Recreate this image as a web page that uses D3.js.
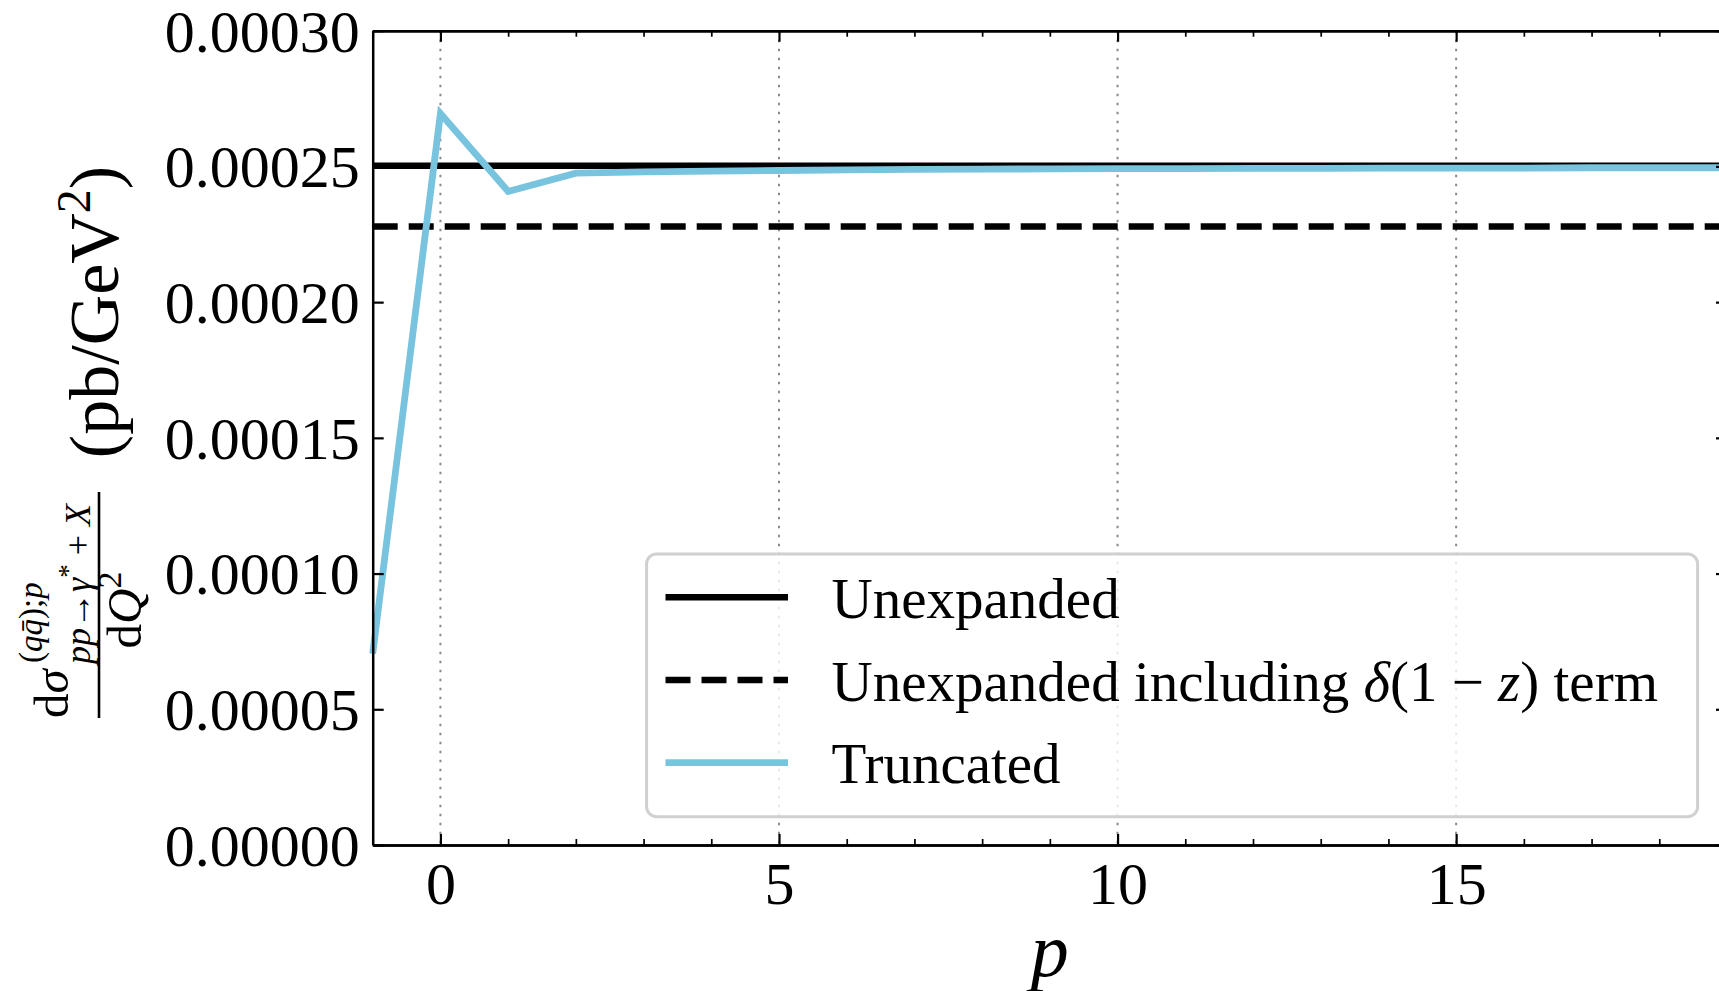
<!DOCTYPE html>
<html>
<head>
<meta charset="utf-8">
<script src="https://cdn.jsdelivr.net/npm/d3@7"></script>
<style>
  body { margin: 0; background: #fff; }
  svg { display: block; }
</style>
</head>
<body>
<svg id="chart" width="1719" height="991"></svg>
<script>
// p values and the truncated cross section (pb/GeV^2)
var pValues = [-1, 0, 1, 2, 3, 4, 5, 6, 7, 8, 9, 10, 11, 12, 13, 14, 15, 16, 17, 18, 19];
var truncated = [0.0000705, 0.0002695, 0.0002408, 0.0002475, 0.0002480, 0.0002483, 0.0002485,
    0.0002487, 0.0002489, 0.0002490, 0.0002491, 0.0002492, 0.0002492, 0.0002493, 0.0002493,
    0.0002494, 0.0002494, 0.0002494, 0.0002495, 0.0002495, 0.0002495];
var unexpanded = 0.0002502;
var unexpandedDelta = 0.0002279;

var xDomain = [-1, 19];
var yDomain = [0, 0.0003];
var xMajorTicks = [0, 5, 10, 15];
var yTicks = [0, 0.00005, 0.0001, 0.00015, 0.0002, 0.00025, 0.0003];
var legendLabels = ["Unexpanded", "Unexpanded including", "Truncated"];

var serif = "'Liberation Serif', 'Times New Roman', serif";
var blue = "#78c3de";

var svg = d3.select("#chart");
var plotLeft = 372.7, plotRight = 1727, plotTop = 30.7, plotBottom = 845;

var x = d3.scaleLinear().domain(xDomain).range([plotLeft, plotRight]);
var y = d3.scaleLinear().domain(yDomain).range([plotBottom, plotTop]);

var xMinorTicks = d3.range(xDomain[0], xDomain[1] + 1).filter(function (d) { return d % 5 !== 0; });

// dotted vertical grid
svg.append("g").selectAll("line")
    .data(xMajorTicks)
    .enter().append("line")
    .attr("x1", function (d) { return x(d); })
    .attr("x2", function (d) { return x(d); })
    .attr("y1", plotTop)
    .attr("y2", plotBottom)
    .attr("stroke", "#8a8a8a")
    .attr("stroke-width", 2)
    .attr("stroke-dasharray", "2.5,6.5");

// horizontal reference lines
svg.append("line")
    .attr("x1", x(xDomain[0])).attr("x2", x(xDomain[1]))
    .attr("y1", y(unexpanded)).attr("y2", y(unexpanded))
    .attr("stroke", "#000").attr("stroke-width", 6.5);

svg.append("line")
    .attr("x1", x(xDomain[0])).attr("x2", x(xDomain[1]))
    .attr("y1", y(unexpandedDelta)).attr("y2", y(unexpandedDelta))
    .attr("stroke", "#000").attr("stroke-width", 6.5)
    .attr("stroke-dasharray", "25,11");

// truncated series
var line = d3.line()
    .x(function (d, i) { return x(pValues[i]); })
    .y(function (d) { return y(d); });

svg.append("path")
    .datum(truncated)
    .attr("d", line)
    .attr("fill", "none")
    .attr("stroke", blue)
    .attr("stroke-width", 6.8)
    .attr("stroke-linejoin", "miter");

// axes, ticks pointing inward on all four sides
function styleAxis(g) {
    g.selectAll(".domain").attr("stroke", "#000").attr("stroke-width", 2.5);
    g.selectAll(".tick line").attr("stroke", "#000").attr("stroke-width", 2.2);
    g.selectAll(".tick text").style("font-family", serif).style("font-size", "60px").attr("fill", "#000");
}

svg.append("g")
    .attr("transform", "translate(0," + plotBottom + ")")
    .call(d3.axisBottom(x).tickValues(xMajorTicks).tickSize(-11).tickSizeOuter(0).tickPadding(16))
    .call(styleAxis);

svg.append("g")
    .attr("transform", "translate(0," + plotBottom + ")")
    .call(d3.axisBottom(x).tickValues(xMinorTicks).tickSize(-6).tickSizeOuter(0).tickFormat(""))
    .call(styleAxis)
    .call(function (g) { g.selectAll(".tick line").attr("stroke-width", 1.7); });

svg.append("g")
    .attr("transform", "translate(0," + plotTop + ")")
    .call(d3.axisTop(x).tickValues(xMajorTicks).tickSize(-11).tickSizeOuter(0).tickFormat(""))
    .call(styleAxis);

svg.append("g")
    .attr("transform", "translate(0," + plotTop + ")")
    .call(d3.axisTop(x).tickValues(xMinorTicks).tickSize(-6).tickSizeOuter(0).tickFormat(""))
    .call(styleAxis)
    .call(function (g) { g.selectAll(".tick line").attr("stroke-width", 1.7); });

svg.append("g")
    .attr("transform", "translate(" + plotLeft + ",0)")
    .call(d3.axisLeft(y).tickValues(yTicks).tickSize(-11).tickSizeOuter(0).tickPadding(13).tickFormat(d3.format(".5f")))
    .call(styleAxis)
    .call(function (g) { g.selectAll(".tick text").attr("dy", "0.34em"); });

svg.append("g")
    .attr("transform", "translate(" + plotRight + ",0)")
    .call(d3.axisRight(y).tickValues(yTicks).tickSize(-11).tickSizeOuter(0).tickFormat(""))
    .call(styleAxis);

// x label
svg.append("text")
    .attr("x", (plotLeft + plotRight) / 2)
    .attr("y", 976)
    .attr("text-anchor", "middle")
    .style("font-family", serif)
    .style("font-style", "italic")
    .style("font-size", "76px")
    .text("p");

// y label (rotated): local x = -screen y, local y = screen x
var yl = svg.append("g")
    .attr("transform", "rotate(-90)")
    .style("font-family", serif)
    .attr("fill", "#000");

var unit = yl.append("text")
    .attr("x", -312)
    .attr("y", 118)
    .attr("text-anchor", "middle")
    .style("font-size", "70px");
unit.append("tspan").text("(pb/GeV");
unit.append("tspan").attr("dy", -28).style("font-size", "48px").text("2");
unit.append("tspan").attr("dy", 28).text(")");

yl.append("line")
    .attr("x1", -718).attr("x2", -492)
    .attr("y1", 99).attr("y2", 99)
    .attr("stroke", "#000").attr("stroke-width", 2.6);

var num = yl.append("text").attr("x", -718).attr("y", 68).style("font-size", "49px");
num.append("tspan").text("d");
num.append("tspan").style("font-style", "italic").text("σ");

var sup = yl.append("text").attr("x", -663).attr("y", 42).style("font-size", "33px");
sup.append("tspan").text("(");
sup.append("tspan").style("font-style", "italic").text("q");
sup.append("tspan").style("font-style", "italic").text("q\u0304");
sup.append("tspan").text(");");
sup.append("tspan").style("font-style", "italic").text("p");

var sub = yl.append("text").attr("x", -664).attr("y", 90).style("font-size", "36px");
sub.append("tspan").style("font-style", "italic").text("pp");
sub.append("tspan").text("→");
sub.append("tspan").style("font-style", "italic").text("γ");
sub.append("tspan").attr("dy", -13).style("font-size", "27px").text("*");
sub.append("tspan").attr("dy", 13).text(" + ");
sub.append("tspan").style("font-style", "italic").text("X");

var den = yl.append("text").attr("x", -610).attr("y", 141).attr("text-anchor", "middle").style("font-size", "49px");
den.append("tspan").text("d");
den.append("tspan").style("font-style", "italic").text("Q");
den.append("tspan").attr("dy", -20).style("font-size", "34px").text("2");

// legend
var legend = svg.append("g");
legend.append("rect")
    .attr("x", 646.6).attr("y", 554)
    .attr("width", 1051).attr("height", 262.7)
    .attr("rx", 10).attr("ry", 10)
    .attr("fill", "#fff").attr("fill-opacity", 0.8)
    .attr("stroke", "#d0d0d0").attr("stroke-width", 3);

var legendStyles = [
    { color: "#000", dash: null, width: 6.5 },
    { color: "#000", dash: "25,11", width: 6.5 },
    { color: blue, dash: null, width: 6.8 }
];
var rowY = d3.scaleLinear().domain([0, 2]).range([597.3, 762.7]);

legendLabels.forEach(function (label, i) {
    legend.append("line")
        .attr("x1", 665.5).attr("x2", 788)
        .attr("y1", rowY(i)).attr("y2", rowY(i))
        .attr("stroke", legendStyles[i].color)
        .attr("stroke-width", legendStyles[i].width)
        .attr("stroke-dasharray", legendStyles[i].dash);
    var t = legend.append("text")
        .attr("x", 831.6).attr("y", rowY(i))
        .attr("dy", "0.36em")
        .style("font-family", serif)
        .style("font-size", "57px");
    t.append("tspan").text(label);
    if (i === 1) {
        t.append("tspan").text(" ");
        t.append("tspan").style("font-style", "italic").text("δ");
        t.append("tspan").text("(1 − ");
        t.append("tspan").style("font-style", "italic").text("z");
        t.append("tspan").text(") term");
    }
});
</script>
</body>
</html>
